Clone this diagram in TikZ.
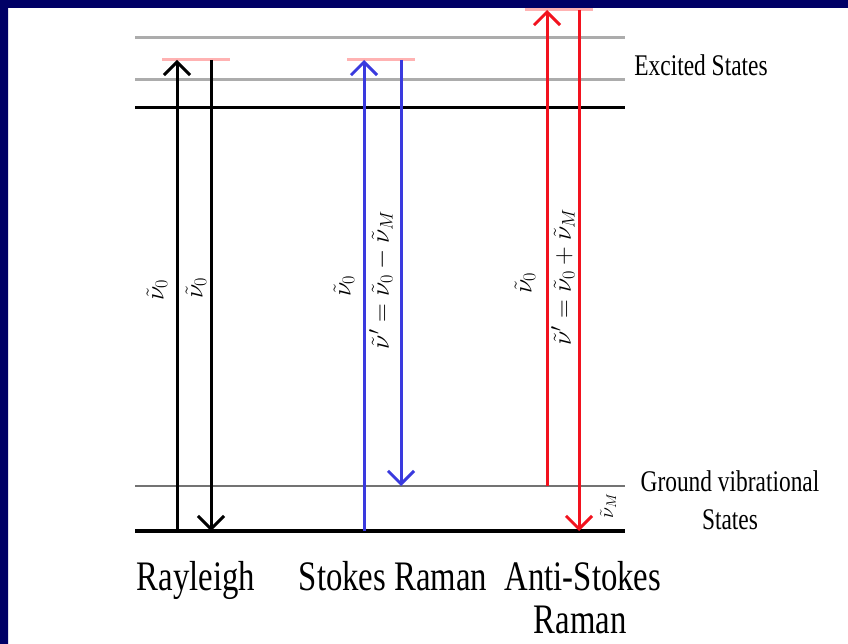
\RequirePackage{fix-cm}
\documentclass[tikz,border=0pt]{standalone}
\usepackage{fontspec}
\setmainfont{Liberation Serif}
\newfontfamily\narrowserif[FakeStretch=0.78]{Liberation Serif}
\usepackage{xcolor}
\usetikzlibrary{arrows.meta,positioning}

\definecolor{slideblue}{RGB}{0,0,102}
\definecolor{levelgray}{RGB}{172,172,172}
\definecolor{virtpink}{RGB}{255,178,178}
\definecolor{stokesblue}{RGB}{58,58,222}
\definecolor{antired}{RGB}{242,18,30}

\begin{document}
\begin{tikzpicture}[
	%Environment config
	x=1pt, y=-1pt,
	%Environment styles
	LevelCfg/.style={line width=3pt, levelgray},
	GroundCfg/.style={line width=3.5pt, black},
	VibCfg/.style={line width=1.2pt, black!55},
	VirtCfg/.style={line width=3pt, virtpink},
	ArrowCfg/.style={line width=3pt, -{Straight Barb[length=13pt,width=26pt]}},
	MathCfg/.style={rotate=90, inner sep=0pt, font=\fontsize{26}{28}\selectfont},
	TextCfg/.style={inner sep=0pt, font=\narrowserif\fontsize{30}{38}\selectfont, align=center},
	NameCfg/.style={inner sep=0pt, anchor=base, font=\narrowserif\fontsize{42}{44}\selectfont}
	]
	\useasboundingbox (0,0) rectangle (848,644);
	\fill[white] (0,0) rectangle (848,644);
	\fill[slideblue] (0,0) rectangle (848,8) (0,0) rectangle (8,644);

	%levels
	\path
	(135,38) coordinate (E2) (625,38) coordinate (E2r)
	(135,80) coordinate (E1) (625,80) coordinate (E1r)
	(135,108) coordinate (E0) (625,108) coordinate (E0r)
	(135,486) coordinate (G1) (625,486) coordinate (G1r)
	(135,531) coordinate (G0) (625,531) coordinate (G0r)
	(0,60) coordinate (V1)
	(0,10) coordinate (V2);

	%arrow columns
	\path
	(177,0) coordinate (RayIn) (211,0) coordinate (RayOut)
	(364,0) coordinate (StIn) (401,0) coordinate (StOut)
	(547,0) coordinate (AsIn) (579,0) coordinate (AsOut);

	\draw[LevelCfg] (E2) -- (E2r) (E1) -- (E1r);
	\draw[line width=3pt] (E0) -- (E0r);
	\draw[VibCfg] (G1) -- (G1r);
	\draw[GroundCfg] (G0) -- (G0r);

	%virtual states
	\draw[VirtCfg]
	(RayIn |- V1) ++(-15,0) -- ++(68,0)
	(StIn |- V1) ++(-17,0) -- ++(68,0)
	(AsIn |- V2) ++(-22,0) -- ++(68,0);

	\draw[ArrowCfg] (RayIn |- G0) -- (RayIn |- V1);
	\draw[ArrowCfg] (RayOut |- V1) -- (RayOut |- G0);
	\draw[ArrowCfg, stokesblue] (StIn |- G0) -- (StIn |- V1);
	\draw[ArrowCfg, stokesblue] (StOut |- V1) -- (StOut |- G1);
	\draw[ArrowCfg, antired] (AsIn |- G1) -- (AsIn |- V2);
	\draw[ArrowCfg, antired] (AsOut |- V2) -- (AsOut |- G0);

	%frequencies
	\node[MathCfg] (RayInLbl) at (157,290) {$\tilde{\nu}_0$};
	\node[MathCfg] (RayOutLbl) at (196,288) {$\tilde{\nu}_0$};
	\node[MathCfg] (StInLbl) at (344,286) {$\tilde{\nu}_0$};
	\node[MathCfg] (StOutLbl) at (381,280) {$\tilde{\nu}' = \tilde{\nu}_0 - \tilde{\nu}_M$};
	\node[MathCfg] (AsInLbl) at (525,283) {$\tilde{\nu}_0$};
	\node[MathCfg] (AsOutLbl) at (563,277) {$\tilde{\nu}' = \tilde{\nu}_0 + \tilde{\nu}_M$};
	\node[MathCfg, font=\fontsize{20}{22}\selectfont] (VibLbl) at (608,506) {$\tilde{\nu}_M$};

	%state names
	\node[TextCfg] (Excited) at (701,65) {Excited States};
	\node[TextCfg] (Ground) at (730,500) {Ground vibrational\\States};

	%process names
	\node[NameCfg] (Rayleigh) at (196,590) {Rayleigh};
	\node[NameCfg] (Stokes) at (393,590) {Stokes Raman};
	\node[NameCfg] (AntiStokes) at (583,590) {Anti-Stokes};
	\node[NameCfg] (AntiStokes2) at (580,633) {Raman};
\end{tikzpicture}
\end{document}
